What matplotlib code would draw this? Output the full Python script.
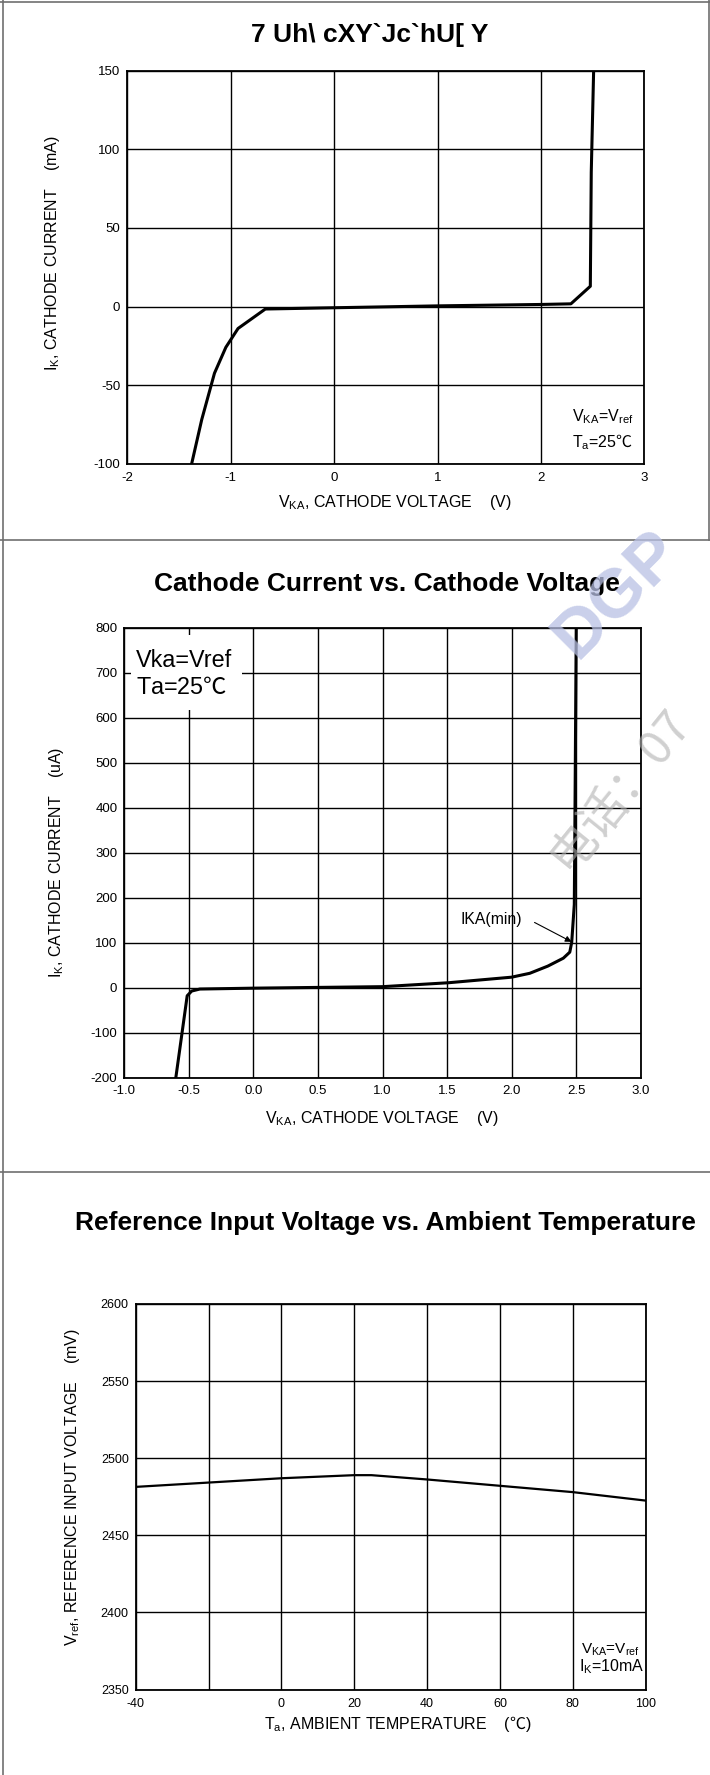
import matplotlib
matplotlib.use('Agg')
import matplotlib.pyplot as plt
from matplotlib.patches import Rectangle
from matplotlib.lines import Line2D

plt.rcParams['font.family'] = ['Liberation Sans', 'Noto Sans CJK SC', 'DejaVu Sans']
plt.rcParams['mathtext.fontset'] = 'custom'
plt.rcParams['mathtext.rm'] = 'Liberation Sans'
plt.rcParams['mathtext.it'] = 'Liberation Sans'
plt.rcParams['mathtext.bf'] = 'Liberation Sans:bold'
plt.rcParams['mathtext.sf'] = 'Noto Sans CJK SC'
plt.rcParams['axes.unicode_minus'] = False

# ---------------- data ----------------
p1_title = "7 Uh\\ cXY`Jc`hU[ Y"
p1_v = [-1.377, -1.28, -1.157, -1.047, -0.929, -0.665, 0.0, 1.0, 2.0, 2.29, 2.478, 2.487, 2.51]
p1_i = [-100, -72, -42.5, -26, -14, -1.6, -0.8, 0.4, 1.3, 1.7, 12.9, 85.5, 150]
p1_xticks = [-2, -1, 0, 1, 2, 3]
p1_yticks = [-100, -50, 0, 50, 100, 150]

p2_title = "Cathode Current vs. Cathode Voltage"
p2_v = [-0.601, -0.513, -0.478, -0.415, 0.005, 1.0, 1.51, 2.0, 2.14, 2.28, 2.40, 2.45, 2.465, 2.485, 2.49, 2.50]
p2_i = [-200, -18, -7.4, -3, -1, 2.3, 11, 23.4, 32, 48, 65.6, 79, 101, 185, 378, 800]
p2_xticks = [-1.0, -0.5, 0.0, 0.5, 1.0, 1.5, 2.0, 2.5, 3.0]
p2_xticklabels = ['-1.0', '-0.5', '0.0', '0.5', '1.0', '1.5', '2.0', '2.5', '3.0']
p2_yticks = [-200, -100, 0, 100, 200, 300, 400, 500, 600, 700, 800]

p3_title = "Reference Input Voltage vs. Ambient Temperature"
p3_t = [-40, -20, 0, 20, 24.7, 40, 60, 80, 100]
p3_v = [2481.4, 2484.2, 2487, 2489, 2489, 2486.2, 2482.1, 2478, 2472.5]
p3_xticks = [-40, -20, 0, 20, 40, 60, 80, 100]
p3_xticklabels = ['-40', '', '0', '20', '40', '60', '80', '100']
p3_yticks = [2350, 2400, 2450, 2500, 2550, 2600]

W, H = 710, 1775
fig = plt.figure(figsize=(W / 100, H / 100), dpi=100)
fig.patch.set_facecolor('white')


def ax_at(l, t, r, b):
    return fig.add_axes([l / W, 1 - b / H, (r - l) / W, (b - t) / H])


def ftext(x, y, s, **kw):
    return fig.text(x / W, 1 - y / H, s, **kw)


def fline(xs, ys, **kw):
    fig.add_artist(Line2D([x / W for x in xs], [1 - y / H for y in ys],
                          transform=fig.transFigure, **kw))


def style_axes(ax, tick_fs, xpad=5.5, ypad=5):
    ax.set_axisbelow(True)
    ax.grid(True, color='black', lw=1.0, zorder=0.5)
    for s in ax.spines.values():
        s.set_linewidth(1.3)
        s.set_color('black')
    ax.tick_params(axis='both', length=0, labelsize=tick_fs)
    ax.tick_params(axis='x', pad=xpad)
    ax.tick_params(axis='y', pad=ypad)


# frame / separators
fline([3, 3], [0, H], color='#707070', lw=1.2)
fline([0, W], [1.5, 1.5], color='#707070', lw=1.2)
fline([708.5, 708.5], [0, 540], color='#707070', lw=1.2)
fline([0, W], [540, 540], color='#707070', lw=1.2)
fline([0, W], [1172, 1172], color='#707070', lw=1.2)

# ---------------- panel 1 ----------------
ax1 = ax_at(127.3, 71, 644.3, 463.5)
ax1.plot(p1_v, p1_i, color='black', lw=2.2, zorder=3)
ax1.set_xlim(-2, 3)
ax1.set_ylim(-100, 150)
ax1.set_xticks(p1_xticks)
ax1.set_yticks(p1_yticks)
style_axes(ax1, 9.5, xpad=6)
ax1.text(0.860, 0.119, r"V$_{\rm KA}$=V$_{\rm ref}$", transform=ax1.transAxes,
         fontsize=11.5, ha='left', va='center')
ax1.text(0.860, 0.0555, r"T$_{\rm a}$=25$\mathsf{℃}$", transform=ax1.transAxes,
         fontsize=11.5, ha='left', va='center')
ftext(370, 35, p1_title, fontsize=19, fontweight='bold', ha='center', va='center')
ftext(395, 503, r"V$_{\rm KA}$, CATHODE VOLTAGE    (V)", fontsize=11.5, ha='center', va='center')
ftext(53, 253, r"I$_{\rm K}$, CATHODE CURRENT    (mA)", fontsize=11.5, ha='center', va='center',
      rotation=90)

# ---------------- panel 2 ----------------
ax2 = ax_at(124.3, 627.7, 640.8, 1077.7)
ax2.plot(p2_v, p2_i, color='black', lw=2.2, zorder=3)
ax2.set_xlim(-1, 3)
ax2.set_ylim(-200, 800)
ax2.set_xticks(p2_xticks)
ax2.set_xticklabels(p2_xticklabels)
ax2.set_yticks(p2_yticks)
style_axes(ax2, 9.5, xpad=5.5)
ax2.add_patch(Rectangle((0.0126, 0.817), 0.216, 0.167, transform=ax2.transAxes,
                        facecolor='white', edgecolor='none', zorder=1.5))
ax2.text(0.0227, 0.928, "Vka=Vref", transform=ax2.transAxes, fontsize=16.8,
         ha='left', va='center', zorder=2)
ax2.text(0.0227, 0.866, r"Ta=25$\mathsf{℃}$", transform=ax2.transAxes, fontsize=16.8,
         ha='left', va='center', zorder=2)
ax2.text(1.843, 151.3, "IKA(min)", fontsize=11.3, ha='center', va='center', zorder=4)
ax2.annotate('', xy=(2.464, 102), xytext=(2.177, 145),
             arrowprops=dict(arrowstyle='-|>', color='black', lw=0.8,
                             mutation_scale=9, shrinkA=0, shrinkB=0), zorder=4)
ftext(387, 584, p2_title, fontsize=19, fontweight='bold', ha='center', va='center')
ftext(382, 1118, r"V$_{\rm KA}$, CATHODE VOLTAGE    (V)", fontsize=11.5, ha='center', va='center')
ftext(56.6, 862, r"I$_{\rm K}$, CATHODE CURRENT    (uA)", fontsize=11.5, ha='center', va='center',
      rotation=90)

# ---------------- panel 3 ----------------
ax3 = ax_at(135.7, 1304, 645.7, 1689.5)
ax3.plot(p3_t, p3_v, color='black', lw=1.6, zorder=3)
ax3.set_xlim(-40, 100)
ax3.set_ylim(2350, 2600)
ax3.set_xticks(p3_xticks)
ax3.set_xticklabels(p3_xticklabels)
ax3.set_yticks(p3_yticks)
style_axes(ax3, 9, xpad=6)
ax3.text(0.873, 0.1025, r"V$_{\rm KA}$=V$_{\rm ref}$", transform=ax3.transAxes,
         fontsize=11, ha='left', va='center')
ax3.text(0.869, 0.058, r"I$_{\rm K}$=10mA", transform=ax3.transAxes,
         fontsize=11.5, ha='left', va='center')
ftext(385, 1222.7, p3_title, fontsize=19, fontweight='bold', ha='center', va='center')
ftext(398, 1723.5, r"T$_{\rm a}$, AMBIENT TEMPERATURE    ($\mathsf{℃}$)", fontsize=11.5,
      ha='center', va='center')
ftext(72.5, 1487, r"V$_{\rm ref}$, REFERENCE INPUT VOLTAGE    (mV)", fontsize=11.5, ha='center',
      va='center', rotation=90)

# ---------------- watermark ----------------
ftext(618, 595, "DGP", fontsize=50, fontweight='bold', color='#b8c0e4', alpha=0.75,
      rotation=45, ha='center', va='center', zorder=10)
ftext(620, 790, "电话：07", fontsize=34, color='#b0b0b0', alpha=0.6, rotation=51,
      ha='center', va='center', family=['Noto Sans CJK SC', 'DejaVu Sans'], zorder=10)

fig.savefig('out.png', dpi=100, facecolor='white')
